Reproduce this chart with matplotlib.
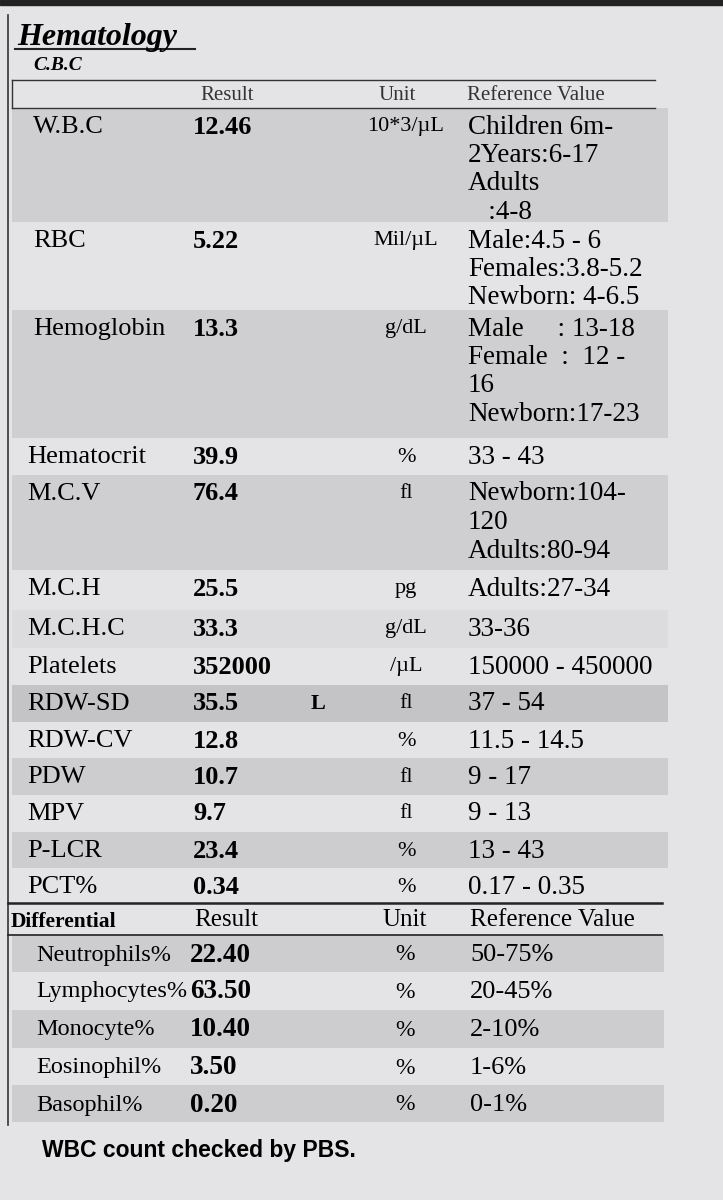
import matplotlib.pyplot as plt
from matplotlib.patches import Rectangle

# C.B.C data
names = ["W.B.C", "RBC", "Hemoglobin", "Hematocrit", "M.C.V", "M.C.H", "M.C.H.C",
         "Platelets", "RDW-SD", "RDW-CV", "PDW", "MPV", "P-LCR", "PCT%"]
results = ["12.46", "5.22", "13.3", "39.9", "76.4", "25.5", "33.3",
           "352000", "35.5", "12.8", "10.7", "9.7", "23.4", "0.34"]
flags = ["", "", "", "", "", "", "", "", "L", "", "", "", "", ""]
units = ["10*3/µL", "Mil/µL", "g/dL", "%", "fl", "pg", "g/dL",
         "/µL", "fl", "%", "fl", "fl", "%", "%"]
refs = [["Children 6m-", "2Years:6-17", "Adults", "   :4-8"],
        ["Male:4.5 - 6", "Females:3.8-5.2", "Newborn: 4-6.5"],
        ["Male     : 13-18", "Female  :  12 -", "16", "Newborn:17-23"],
        ["33 - 43"],
        ["Newborn:104-", "120", "Adults:80-94"],
        ["Adults:27-34"], ["33-36"], ["150000 - 450000"], ["37 - 54"],
        ["11.5 - 14.5"], ["9 - 17"], ["9 - 13"], ["13 - 43"], ["0.17 - 0.35"]]

# Differential data
diff_names = ["Neutrophils%", "Lymphocytes%", "Monocyte%", "Eosinophil%", "Basophil%"]
diff_results = ["22.40", "63.50", "10.40", "3.50", "0.20"]
diff_units = ["%", "%", "%", "%", "%"]
diff_refs = ["50-75%", "20-45%", "2-10%", "1-6%", "0-1%"]

# layout (pixel rows)
row_tops = [108, 222, 310, 438, 475, 570, 610, 648, 685, 722, 758, 795, 832, 868, 903]
row_shade = ["#cfcfd1", None, "#cfcfd1", None, "#cfcfd1", None, "#dcdcde", None,
             "#c4c4c6", None, "#cdcdcf", None, "#cdcdcf", None]
diff_tops = [935, 972, 1010, 1048, 1085, 1122]
diff_shade = ["#cdcdcf", None, "#cdcdcf", None, "#cdcdcf"]

serif = ["Liberation Serif", "DejaVu Serif"]
fig = plt.figure(figsize=(7.23, 12), dpi=100)
fig.patch.set_facecolor("#e4e4e6")
ax = fig.add_axes([0, 0, 1, 1])
ax.set_xlim(0, 723)
ax.set_ylim(1200, 0)
ax.axis("off")
ax.set_facecolor("#e4e4e6")

ax.add_patch(Rectangle((0, 0), 723, 5, color="#222222"))
ax.plot([8, 8], [15, 1125], color="#333333", lw=1.2)

ax.text(17, 38, "Hematology", fontsize=23, fontweight="bold", style="italic",
        family=serif, va="center")
ax.plot([15, 195], [49, 49], color="#222222", lw=1.5)
ax.text(33, 66, "C.B.C", fontsize=14, fontweight="bold", style="italic",
        family=serif, va="center")

ax.plot([12, 655], [80, 80], color="#333333", lw=1)
ax.plot([12, 655], [108, 108], color="#333333", lw=1)
ax.plot([12, 12], [80, 108], color="#333333", lw=1)
for x, t in [(227, "Result"), (397, "Unit")]:
    ax.text(x, 95, t, fontsize=15, family=serif, ha="center", va="center", color="#333333")
ax.text(467, 95, "Reference Value", fontsize=15, family=serif, va="center", color="#333333")

for i in range(len(names)):
    top, bot = row_tops[i], row_tops[i + 1]
    if row_shade[i]:
        ax.add_patch(Rectangle((12, top), 656, bot - top, color=row_shade[i], lw=0))
    y = top + 19
    ax.text(33 if i < 3 else 27, y, names[i], fontsize=19, family=serif, va="center")
    ax.text(193, y, results[i], fontsize=19, fontweight="bold", family=serif, va="center")
    if flags[i]:
        ax.text(318, y, flags[i], fontsize=16, fontweight="bold", family=serif,
                ha="center", va="center")
    ax.text(406, y, units[i], fontsize=16, family=serif, ha="center", va="center")
    for k, line in enumerate(refs[i]):
        ax.text(468, y + k * 28.5, line, fontsize=19.5, family=serif, va="center")

ax.plot([8, 662], [903, 903], color="#222222", lw=1.8)
ax.plot([8, 662], [935, 935], color="#222222", lw=1.2)
ax.text(11, 922, "Differential", fontsize=15.5, fontweight="bold", family=serif, va="center")
ax.text(226, 920, "Result", fontsize=18, family=serif, ha="center", va="center")
ax.text(405, 920, "Unit", fontsize=18, family=serif, ha="center", va="center")
ax.text(470, 920, "Reference Value", fontsize=18, family=serif, va="center")

for i in range(len(diff_names)):
    top, bot = diff_tops[i], diff_tops[i + 1]
    if diff_shade[i]:
        ax.add_patch(Rectangle((12, top), 652, bot - top, color=diff_shade[i], lw=0))
    y = top + 20
    ax.text(36, y, diff_names[i], fontsize=17.5, family=serif, va="center")
    ax.text(190, y, diff_results[i], fontsize=19.5, fontweight="bold", family=serif,
            va="center")
    ax.text(405, y, diff_units[i], fontsize=17, family=serif, ha="center", va="center")
    ax.text(470, y, diff_refs[i], fontsize=19, family=serif, va="center")

ax.text(42, 1150, "WBC count checked by PBS.", fontsize=16.5, fontweight="bold",
        family=["Liberation Sans", "DejaVu Sans"], va="center")

fig.savefig("out.png", dpi=100, facecolor=fig.get_facecolor())
